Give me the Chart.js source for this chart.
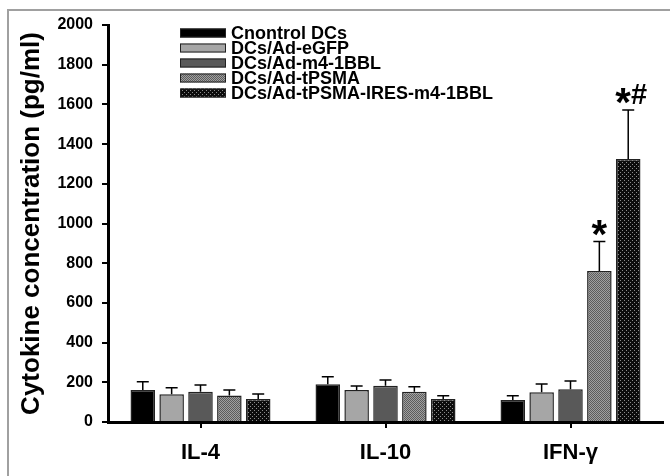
<!DOCTYPE html>
<html>
<head>
<meta charset="utf-8">
<script src="https://cdn.jsdelivr.net/npm/chart.js@4.4.1/dist/chart.umd.min.js"></script>
<style>
  html, body { margin: 0; padding: 0; background: #fff; }
  #wrap { width: 670px; height: 476px; }
</style>
</head>
<body>
<div id="wrap"><canvas id="barChart" width="670" height="476"></canvas></div>
<script>
const categories = ["IL-4", "IL-10", "IFN-γ"];
const seriesNames = ["Cnontrol DCs", "DCs/Ad-eGFP", "DCs/Ad-m4-1BBL", "DCs/Ad-tPSMA", "DCs/Ad-tPSMA-IRES-m4-1BBL"];

const controlVals = [161, 190, 111];
const controlErr  = [42, 38, 21];
const egfpVals    = [140, 161, 150];
const egfpErr     = [33, 20, 41];
const m41bblVals  = [153, 183, 165];
const m41bblErr   = [33, 29, 42];
const tpsmaVals   = [133, 153, 761];
const tpsmaErr    = [28, 25, 148];
const iresVals    = [116, 116, 1325];
const iresErr     = [25, 16, 247];

const tpsmaMarks = ["", "", "*"];
const iresMarks  = ["", "", "*#"];

const yTicks = [0, 200, 400, 600, 800, 1000, 1200, 1400, 1600, 1800, 2000];

const CHART = document.getElementById("barChart");

// small repeating fills for the hatched bars
function makePattern(bg, dot, size, dots) {
	const c = document.createElement("canvas");
	c.width = size; c.height = size;
	const cx = c.getContext("2d");
	cx.fillStyle = bg;
	cx.fillRect(0, 0, size, size);
	cx.fillStyle = dot;
	dots.forEach(function(d) { cx.fillRect(d[0], d[1], 1, 1); });
	return CHART.getContext("2d").createPattern(c, "repeat");
}

const stippleGray = makePattern("#a0a0a0", "#5c5c5c", 2, [[0, 0], [1, 1]]);
const dottedBlack = makePattern("#0c0c0c", "#8c8c8c", 4, [[0, 0], [2, 2]]);

const fills = ["#000000", "#a6a6a6", "#595959", stippleGray, dottedBlack];
const valueSets = [controlVals, egfpVals, m41bblVals, tpsmaVals, iresVals];
const errSets = [controlErr, egfpErr, m41bblErr, tpsmaErr, iresErr];
const markSets = [[], [], [], tpsmaMarks, iresMarks];

const FONT = "'Liberation Sans', Arial, sans-serif";

const frame = {
	id: "frame",
	beforeDraw(chart) {
		const ctx = chart.ctx;
		ctx.save();
		ctx.strokeStyle = "#a0a0a0";
		ctx.lineWidth = 2;
		ctx.beginPath();
		ctx.moveTo(8, 480);
		ctx.lineTo(8, 10);
		ctx.lineTo(680, 10);
		ctx.stroke();
		ctx.restore();
	}
};

const errorBars = {
	id: "errorBars",
	afterDatasetsDraw(chart) {
		const ctx = chart.ctx;
		const y = chart.scales.y;
		ctx.save();
		chart.data.datasets.forEach(function(ds, i) {
			const meta = chart.getDatasetMeta(i);
			meta.data.forEach(function(bar, j) {
				const top = y.getPixelForValue(ds.data[j] + ds.errors[j]);
				ctx.strokeStyle = "#000";
				ctx.lineWidth = 1.5;
				ctx.beginPath();
				ctx.moveTo(bar.x, bar.y);
				ctx.lineTo(bar.x, top);
				ctx.moveTo(bar.x - 6, top);
				ctx.lineTo(bar.x + 6, top);
				ctx.stroke();

				const mark = (ds.marks || [])[j];
				if (!mark) return;
				const parts = mark.split("").map(function(ch) {
					const f = ch === "*" ? "bold 40px " + FONT : "bold 29px " + FONT;
					ctx.font = f;
					const m = ctx.measureText(ch);
					return { ch: ch, font: f, w: m.width, desc: m.actualBoundingBoxDescent };
				});
				const total = parts.reduce(function(s, p) { return s + p.w; }, 0);
				let x = bar.x - total / 2 + (parts.length > 1 ? 3 : 0);
				ctx.fillStyle = "#000";
				ctx.textAlign = "left";
				ctx.textBaseline = "alphabetic";
				parts.forEach(function(p) {
					ctx.font = p.font;
					ctx.fillText(p.ch, x, top - 6 - p.desc);
					x += p.w;
				});
			});
		});
		ctx.restore();
	}
};

const legendBox = {
	id: "legendBox",
	afterDraw(chart) {
		const ctx = chart.ctx;
		const a = chart.chartArea;
		ctx.save();
		ctx.font = "bold 18px " + FONT;
		ctx.textBaseline = "middle";
		ctx.textAlign = "left";
		chart.data.datasets.forEach(function(ds, i) {
			const cy = a.top + 8 + i * 15;
			ctx.fillStyle = ds.backgroundColor;
			ctx.fillRect(a.left + 72, cy - 4.5, 46, 9);
			ctx.strokeStyle = "#222";
			ctx.lineWidth = 1;
			ctx.strokeRect(a.left + 72.5, cy - 4, 45, 8);
			ctx.fillStyle = "#000";
			ctx.fillText(ds.label, a.left + 123, cy + 1);
		});
		ctx.restore();
	}
};

let barChart = new Chart(CHART, {
	type: "bar",
	data: {
		labels: categories,
		datasets: seriesNames.map(function(name, i) {
			return {
				label: name,
				data: valueSets[i],
				errors: errSets[i],
				marks: markSets[i],
				backgroundColor: fills[i],
				borderColor: "#222",
				borderWidth: 1.5,
				barPercentage: 0.85,
				categoryPercentage: 0.78
			};
		})
	},
	options: {
		responsive: false,
		animation: false,
		devicePixelRatio: 1,
		layout: { padding: { left: 0, top: 25, right: 7, bottom: 0 } },
		plugins: {
			legend: { display: false },
			tooltip: { enabled: false }
		},
		scales: {
			x: {
				border: { display: true, color: "#000", width: 3 },
				grid: { display: true, drawOnChartArea: false, drawTicks: true, offset: false, tickLength: 6, color: "#000", lineWidth: 2 },
				ticks: { color: "#000", padding: 12, font: { family: FONT, size: 22, weight: "bold" } },
				afterFit(s) { s.height = 54; }
			},
			y: {
				min: 0,
				max: 2000,
				afterBuildTicks(s) { s.ticks = yTicks.map(function(v) { return { value: v }; }); },
				border: { display: true, color: "#000", width: 3 },
				grid: { display: true, drawOnChartArea: false, drawTicks: true, tickLength: 6, color: "#000", lineWidth: 2 },
				ticks: {
					color: "#000",
					padding: 9,
					font: { family: FONT, size: 16, weight: "bold" },
					callback: function(v) { return String(v); }
				},
				title: {
					display: true,
					text: "Cytokine concentration (pg/ml)",
					color: "#000",
					padding: { top: 16, bottom: 0 },
					font: { family: FONT, size: 26, weight: "bold" }
				},
				afterFit(s) { s.width = 108; }
			}
		}
	},
	plugins: [frame, errorBars, legendBox]
});
</script>
</body>
</html>
